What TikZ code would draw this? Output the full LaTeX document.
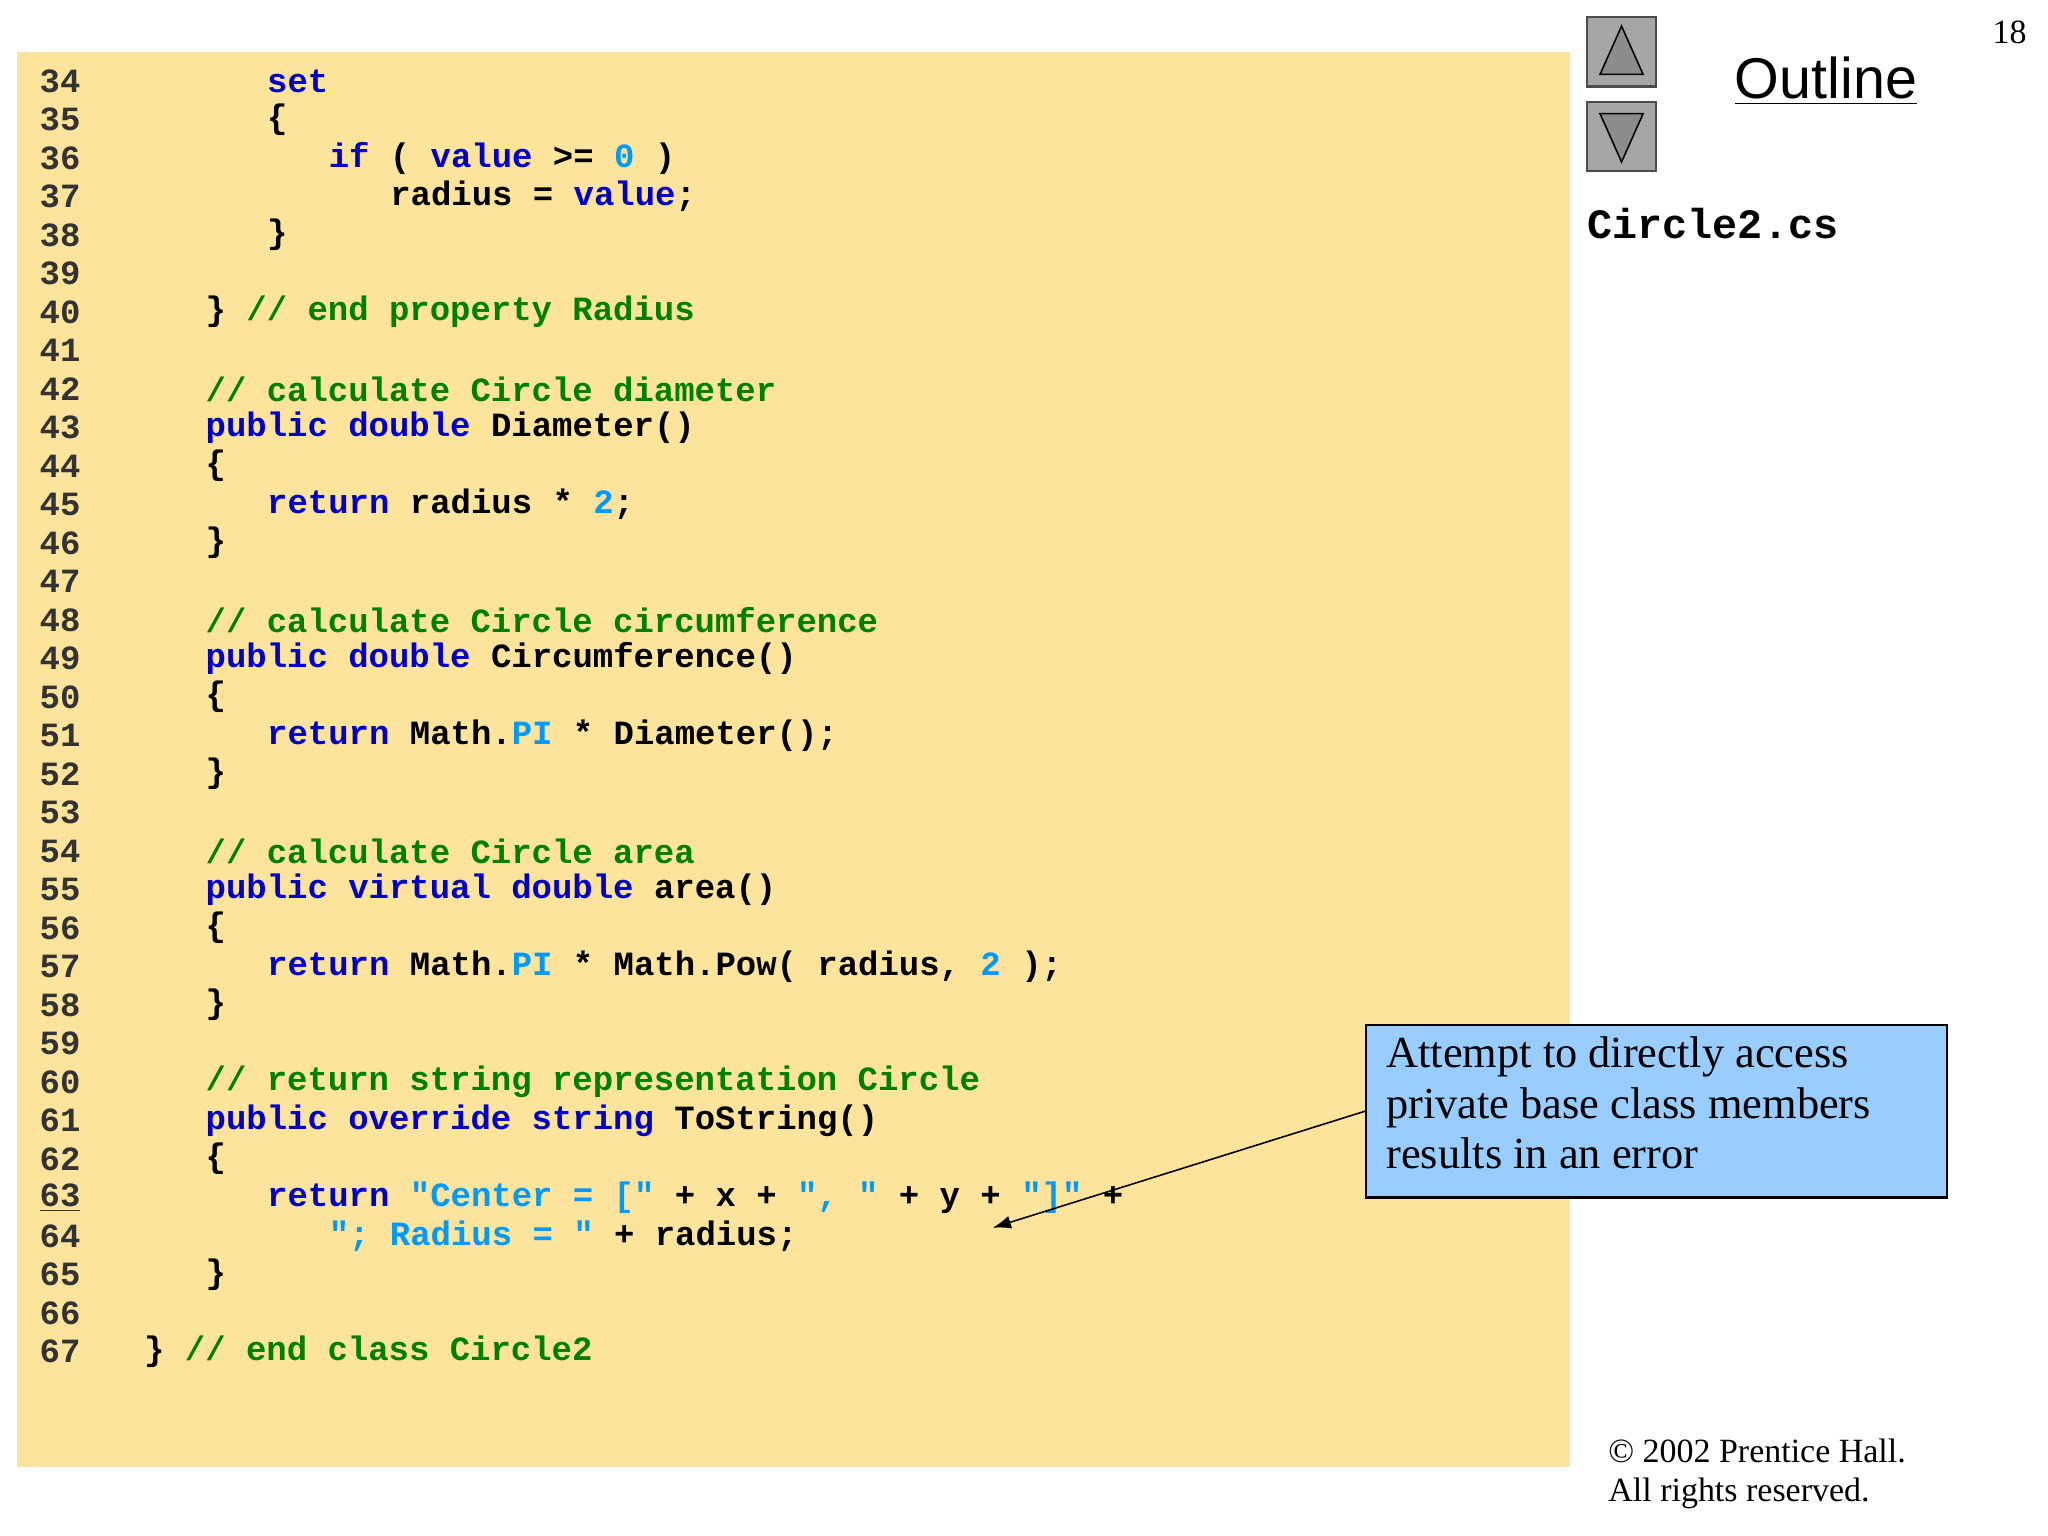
\documentclass[tikz,border=0pt]{standalone}
\usetikzlibrary{arrows.meta}
\usepackage{fontspec}
\setmainfont{Liberation Serif}
\newfontfamily\codefont{Liberation Mono}[BoldFont=* Bold]
\newfontfamily\sansf{Liberation Sans}
\definecolor{kwc}{HTML}{0000CC}
\definecolor{cmc}{HTML}{008000}
\definecolor{ltc}{HTML}{0099FF}
\definecolor{bgc}{HTML}{FDE49C}
\definecolor{boxc}{HTML}{99CCFF}
\newcommand{\kwd}[1]{\textcolor{kwc}{#1}}
\newcommand{\cmtx}[1]{\textcolor{cmc}{#1}}
\newcommand{\litx}[1]{\textcolor{ltc}{#1}}
\begin{document}
\begin{tikzpicture}[x=0.5pt,y=-0.5pt,
  code/.style={anchor=west,inner sep=0pt,font=\codefont\bfseries\fontsize{13}{15}\selectfont},
  num/.style={code,text=black!80},
  icon/.style={draw=black!70,line width=1pt,fill=black!35},
  tri/.style={draw=black,fill=black!45,line width=0.6pt}]
\useasboundingbox (0,0) rectangle (1568,1176);
\fill[white] (0,0) rectangle (1568,1176);
\fill[bgc] (13,40) rectangle (1202,1123);
\newcommand{\cl}[3]{\node[num] (n#1) at (30,{62+(#1-34)*29.48}) {#1};
  \node[code] (l#1) at ({110+#2*15.7},{62+(#1-34)*29.48}) {#3};}
\cl{34}{6}{\kwd{set}}
\cl{35}{6}{\{}
\cl{36}{9}{\kwd{if} ( \kwd{value} >= \litx{0} )}
\cl{37}{12}{radius = \kwd{value};}
\cl{38}{6}{\}}
\node[num] at (30,{62+5*29.48}) {39};
\cl{40}{3}{\} \cmtx{// end property Radius}}
\node[num] at (30,{62+7*29.48}) {41};
\cl{42}{3}{\cmtx{// calculate Circle diameter}}
\cl{43}{3}{\kwd{public double} Diameter()}
\cl{44}{3}{\{}
\cl{45}{6}{\kwd{return} radius * \litx{2};}
\cl{46}{3}{\}}
\node[num] at (30,{62+13*29.48}) {47};
\cl{48}{3}{\cmtx{// calculate Circle circumference}}
\cl{49}{3}{\kwd{public double} Circumference()}
\cl{50}{3}{\{}
\cl{51}{6}{\kwd{return} Math.\litx{PI} * Diameter();}
\cl{52}{3}{\}}
\node[num] at (30,{62+19*29.48}) {53};
\cl{54}{3}{\cmtx{// calculate Circle area}}
\cl{55}{3}{\kwd{public virtual double} area()}
\cl{56}{3}{\{}
\cl{57}{6}{\kwd{return} Math.\litx{PI} * Math.Pow( radius, \litx{2} );}
\cl{58}{3}{\}}
\node[num] at (30,{62+25*29.48}) {59};
\cl{60}{3}{\cmtx{// return string representation Circle}}
\cl{61}{3}{\kwd{public override string} ToString()}
\cl{62}{3}{\{}
\node[code] (l63) at ({110+6*15.7},{62+29*29.48}) {\kwd{return} \litx{"Center = ["} + x + \litx{", "} + y + \litx{"]"} +};
\node[num] (n63) at (30,{62+29*29.48}) {\underline{63}};
\cl{64}{9}{\litx{"; Radius = "} + radius;}
\cl{65}{3}{\}}
\node[num] at (30,{62+32*29.48}) {66};
\cl{67}{0}{\} \cmtx{// end class Circle2}}
% callout
\node[draw=black,fill=boxc,line width=0.8pt,minimum width=222.5pt,minimum height=66pt,anchor=north west,inner sep=0pt] (box) at (1045,784) {};
\node[anchor=north west,align=left,inner sep=0pt,font=\fontsize{17}{19.5}\selectfont] (btxt) at (1061,793) {Attempt to directly access\\private base class members\\results in an error};
\coordinate (tip) at (760,940);
\draw[-{Latex[length=7pt,width=5pt]},line width=0.6pt] (box.west) -- (tip);
% outline
\node[anchor=center,inner sep=0pt,font=\sansf\fontsize{22}{24}\selectfont] (outl) at (1398,62) {\underline{Outline}};
\node[anchor=west,inner sep=0pt,font=\codefont\bfseries\fontsize{16}{18}\selectfont] (fn) at (1215,171) {Circle2.cs};
\node[anchor=east,inner sep=0pt,font=\fontsize{13}{15}\selectfont] (pg) at (1552,25) {18};
\node[anchor=north west,align=left,inner sep=0pt,font=\fontsize{13}{15}\selectfont] (cp) at (1231,1101) {\textcopyright{} 2002 Prentice Hall.\\All rights reserved.};
% icons
\draw[icon] (1215,13) rectangle (1268,66);
\draw[tri] (1241.5,20) -- (1258,57) -- (1225,57) -- cycle;
\draw[icon] (1215,78) rectangle (1268,131);
\draw[tri] (1241.5,124) -- (1258,87) -- (1225,87) -- cycle;
\end{tikzpicture}
\end{document}
